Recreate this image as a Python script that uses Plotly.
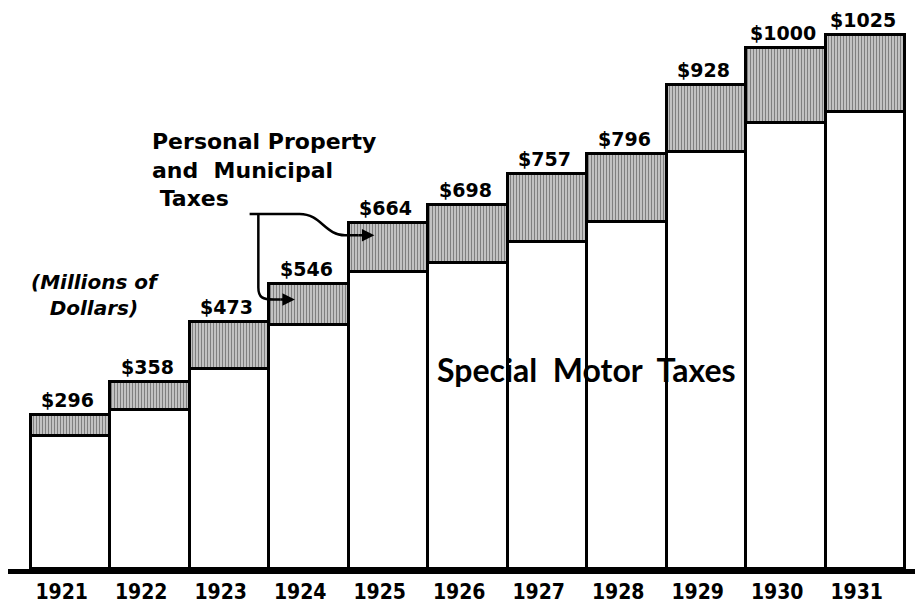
import plotly.graph_objects as go

years = ["1921", "1922", "1923", "1924", "1925", "1926", "1927", "1928", "1929", "1930", "1931"]
totals = [296, 358, 473, 546, 664, 698, 757, 796, 928, 1000, 1025]
motor = [256, 305, 384, 468, 570, 587, 627, 665, 800, 855, 876]
labels = ["$296", "$358", "$473", "$546", "$664", "$698", "$757", "$796", "$928", "$1000", "$1025"]

other = [t - m for t, m in zip(totals, motor)]
xs = list(range(len(years)))

FONT = "DejaVu Sans"

fig = go.Figure()
fig.add_trace(go.Bar(
    x=xs, y=motor, name="Special Motor Taxes",
    marker=dict(color="white", line=dict(color="black", width=2.8)),
    width=1.0,
))
fig.add_trace(go.Bar(
    x=xs, y=other, name="Personal Property and Municipal Taxes",
    marker=dict(color="white", line=dict(color="black", width=2.8),
                pattern=dict(shape="|", fgcolor="black", bgcolor="white", size=3, solidity=0.65)),
    width=1.0,
))

for i, (t, lab) in enumerate(zip(totals, labels)):
    fig.add_annotation(x=i, y=t, text="<b>" + lab + "</b>", showarrow=False,
                       yanchor="bottom", yshift=2, xshift=-3,
                       font=dict(family=FONT, size=19, color="black"))

fig.add_annotation(x=1.0, y=848, xref="x", yref="y",
                   text="<b>Personal Property<br>and  Municipal<br> Taxes</b>",
                   showarrow=False, xanchor="left", yanchor="top", align="left",
                   font=dict(family=FONT, size=22, color="black"))
fig.add_annotation(x=0.3, y=525, text="<b><i>(Millions of<br>Dollars)</i></b>",
                   showarrow=False, align="center",
                   font=dict(family=FONT, size=20, color="black"))
fig.add_annotation(x=6.49, y=383, text="<b>Special  Motor  Taxes</b>",
                   showarrow=False,
                   font=dict(family="Lato", size=32, color="black"))

# connector lines
fig.add_shape(type="path", xref="x", yref="y",
              path="M 2.25 681 L 2.88 681 C 3.15 681, 3.2 640, 3.45 640 L 3.62 640",
              line=dict(color="black", width=2.5))
fig.add_shape(type="path", xref="x", yref="y",
              path="M 2.36 681 L 2.36 540 C 2.36 520, 2.42 517, 2.55 517 L 2.64 517",
              line=dict(color="black", width=2.5))
fig.add_annotation(x=3.82, y=640, ax=3.6, ay=640, xref="x", yref="y", axref="x", ayref="y",
                   showarrow=True, arrowhead=2, arrowsize=1, arrowwidth=2.5, arrowcolor="black", text="")
fig.add_annotation(x=2.82, y=517, ax=2.62, ay=517, xref="x", yref="y", axref="x", ayref="y",
                   showarrow=True, arrowhead=2, arrowsize=1, arrowwidth=2.5, arrowcolor="black", text="")

fig.update_layout(
    width=907, height=596,
    margin=dict(l=0, r=0, t=0, b=29),
    paper_bgcolor="white", plot_bgcolor="white",
    barmode="stack", bargap=0, showlegend=False,
    xaxis=dict(range=[-0.789, 10.62], tickvals=xs, ticktext=["<b>" + y + "</b>" for y in years],
               showgrid=False, zeroline=False, showline=True, linecolor="black", linewidth=5,
               ticks="", ticklabelshift=-9,
               tickfont=dict(family="DejaVu Sans Condensed, DejaVu Sans", size=21, color="black")),
    yaxis=dict(range=[0, 1076], visible=False, showgrid=False, zeroline=False),
)

fig.write_html("out.html")
